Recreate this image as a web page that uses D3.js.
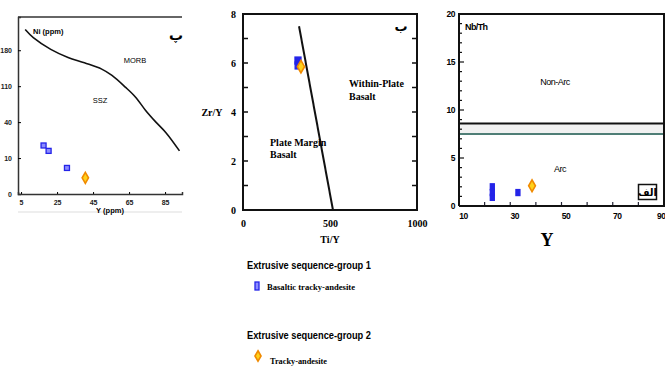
<!DOCTYPE html>
<html>
<head>
<meta charset="utf-8">
<script src="https://cdn.jsdelivr.net/npm/d3@7"></script>
<style>
  body { margin: 0; background: #fff; }
  svg { display: block; }
  .sans { font-family: "Liberation Sans", Arial, sans-serif; }
  .serif { font-family: "Liberation Serif", "Times New Roman", serif; font-weight: bold; }
</style>
</head>
<body>
<div id="chart-area"></div>
<script>
// ---- panel 1 : Ni (ppm) vs Y (ppm)
var niTickVals = [0, 40, 80, 120, 160];
var niTickLabels = ["0", "10", "40", "110", "180"];
var yppmTicks = [5, 25, 45, 65, 85];
var niBoundary = [[7.3,183],[11.8,174],[21.5,161],[31.1,152],[40.2,146],[49.8,139],[55.5,132],
                  [62.9,119],[68.5,108],[74.2,93],[79.9,80],[85.6,68],[93.0,48]];
var niBasaltic = [[17.5,54],[20.3,48],[30.5,29]];
var niTracky = [[40.7,18]];

// ---- panel 2 : Zr/Y vs Ti/Y
var tiyTicks = [0, 500, 1000];
var zryTicks = [0, 2, 4, 6, 8];
var zryMinor = [0, 1, 2, 3, 4, 5, 6, 7, 8];
var tiyBoundary = [[322,7.5],[517,0]];
var tiyBasaltic = [[316,6.1],[317,5.9]];
var tiyTracky = [[333,5.85]];

// ---- panel 3 : Nb/Th vs Y
var yTicks3 = [10, 30, 50, 70, 90];
var yMinor3 = [10, 20, 30, 40, 50, 60, 70, 80, 90];
var nbthTicks = [0, 5, 10, 15, 20];
var nbthMinor = d3.range(0, 21);
var nbthBasaltic = [[23,2.0],[23,1.4],[23,0.9],[33,1.4]];
var nbthTracky = [[38.5,2.1]];
var arcLine = 8.6, arcLine2 = 7.5;

var svg = d3.select("#chart-area").append("svg")
    .attr("width", 665).attr("height", 367);

var blue = "#2424e8", orange = "#f08a00";

function blueSquare(g, x, y, w, h, light) {
    g.append("rect")
        .attr("x", x - w/2).attr("y", y - h/2)
        .attr("width", w).attr("height", h)
        .attr("fill", light ? "#8c8cff" : blue)
        .attr("stroke", blue).attr("stroke-width", 1.3);
}
function orangeDiamond(g, x, y, s) {
    g.append("path")
        .attr("transform", "translate(" + x + "," + y + ")")
        .attr("d", d3.symbol().type(d3.symbolDiamond).size(s)())
        .attr("fill", "#ffd21a").attr("stroke", orange).attr("stroke-width", 1.6);
}

// ================= panel 1
var x1 = d3.scaleLinear().domain([3.3, 94.4]).range([18, 182]);
var y1 = d3.scaleLinear().domain([0, 197]).range([194, 17]);
var p1 = svg.append("g").attr("class", "sans");

p1.append("line").attr("x1", 18).attr("x2", 182).attr("y1", 17).attr("y2", 17)
    .attr("stroke", "#333").attr("stroke-width", 1.5);
p1.append("line").attr("x1", 18).attr("x2", 182).attr("y1", 212).attr("y2", 212)
    .attr("stroke", "#ddd").attr("stroke-width", 1);

p1.append("g").attr("transform", "translate(18,0)")
    .call(d3.axisLeft(y1).tickValues(niTickVals).tickSize(-3).tickPadding(6)
        .tickFormat(function(d, i){ return niTickLabels[i]; }))
    .call(function(g){ g.select(".domain").attr("stroke-width", 1.5).attr("stroke", "#333"); })
    .selectAll("text").attr("font-size", 7).attr("font-weight", "bold").attr("fill", "#222");

p1.append("g").attr("transform", "translate(0,194)")
    .call(d3.axisBottom(x1).tickValues(yppmTicks).tickSize(-2).tickPadding(6))
    .call(function(g){ g.select(".domain").attr("stroke-width", 1.5).attr("stroke", "#333"); })
    .selectAll("text").attr("font-size", 7).attr("font-weight", "bold").attr("fill", "#222");

p1.append("path").datum(niBoundary)
    .attr("d", d3.line().x(function(d){ return x1(d[0]); }).y(function(d){ return y1(d[1]); }).curve(d3.curveCatmullRom))
    .attr("fill", "none").attr("stroke", "#111").attr("stroke-width", 1.6);

p1.append("text").attr("x", 33).attr("y", 34).attr("font-size", 7.5).attr("font-weight", "bold").text("Ni (ppm)");
p1.append("text").attr("x", 135).attr("y", 63).attr("font-size", 7.5).attr("text-anchor", "middle").text("MORB");
p1.append("text").attr("x", 100).attr("y", 103).attr("font-size", 7.5).attr("text-anchor", "middle").text("SSZ");
p1.append("text").attr("x", 110).attr("y", 213).attr("font-size", 7.5).attr("font-weight", "bold").attr("text-anchor", "middle").text("Y (ppm)");
p1.append("text").attr("x", 176).attr("y", 40).attr("font-size", 14).attr("font-weight", "bold")
    .attr("font-family", "DejaVu Sans").attr("text-anchor", "middle").text("پ");

niBasaltic.forEach(function(d){ blueSquare(p1, x1(d[0]), y1(d[1]), 5, 5, true); });
niTracky.forEach(function(d){ orangeDiamond(p1, x1(d[0]), y1(d[1]), 35); });

// ================= panel 2
var x2 = d3.scaleLinear().domain([0, 1000]).range([243, 417]);
var y2 = d3.scaleLinear().domain([0, 8]).range([210, 14]);
var p2 = svg.append("g").attr("class", "serif");

p2.append("g").selectAll("line.l").data(zryMinor).enter().append("line")
    .attr("x1", 243).attr("x2", 248).attr("y1", y2).attr("y2", y2).attr("stroke", "#111").attr("stroke-width", 1.5);
p2.append("g").selectAll("line.r").data(zryMinor).enter().append("line")
    .attr("x1", 412).attr("x2", 417).attr("y1", y2).attr("y2", y2).attr("stroke", "#111").attr("stroke-width", 1.5);

p2.append("g").attr("transform", "translate(243,0)")
    .call(d3.axisLeft(y2).tickValues(zryTicks).tickSize(0).tickPadding(7))
    .call(function(g){ g.select(".domain").remove(); })
    .selectAll("text").attr("font-size", 10).attr("font-family", "Liberation Serif").attr("font-weight", "bold");
p2.append("g").attr("transform", "translate(0,210)")
    .call(d3.axisBottom(x2).tickValues(tiyTicks).tickSize(0).tickPadding(10).tickFormat(d3.format("d")))
    .call(function(g){ g.select(".domain").remove(); })
    .selectAll("text").attr("font-size", 10).attr("font-family", "Liberation Serif").attr("font-weight", "bold");

p2.append("rect").attr("x", x2(0)).attr("y", y2(8)).attr("width", x2(1000) - x2(0)).attr("height", y2(0) - y2(8))
    .attr("fill", "none").attr("stroke", "#111").attr("stroke-width", 2);

p2.append("path").datum(tiyBoundary)
    .attr("d", d3.line().x(function(d){ return x2(d[0]); }).y(function(d){ return y2(d[1]); }))
    .attr("stroke", "#111").attr("stroke-width", 2).attr("fill", "none");

p2.append("text").attr("x", 349).attr("y", 87).attr("font-size", 10).text("Within-Plate");
p2.append("text").attr("x", 349).attr("y", 100).attr("font-size", 10).text("Basalt");
p2.append("text").attr("x", 270).attr("y", 146).attr("font-size", 10).text("Plate Margin");
p2.append("text").attr("x", 270).attr("y", 158).attr("font-size", 10).text("Basalt");
p2.append("text").attr("x", 330).attr("y", 243).attr("font-size", 10).attr("text-anchor", "middle").text("Ti/Y");
p2.append("text").attr("x", 212).attr("y", 116).attr("font-size", 10).attr("text-anchor", "middle").text("Zr/Y");
p2.append("text").attr("x", 401).attr("y", 31).attr("font-size", 13).attr("font-family", "DejaVu Sans")
    .attr("text-anchor", "middle").text("ب");

tiyBasaltic.forEach(function(d){ blueSquare(p2, x2(d[0]), y2(d[1]), 6, 7, false); });
tiyTracky.forEach(function(d){ orangeDiamond(p2, x2(d[0]), y2(d[1]), 45); });

// ================= panel 3
var x3 = d3.scaleLinear().domain([10, 90]).range([459, 664]);
var y3 = d3.scaleLinear().domain([0, 20]).range([206, 14]);
var p3 = svg.append("g").attr("class", "sans");

p3.append("rect").attr("x", 459).attr("y", y3(arcLine) + 1).attr("width", 205).attr("height", y3(arcLine2) - y3(arcLine) - 2)
    .attr("fill", "#f1f1f1");
p3.append("line").attr("x1", 459).attr("x2", 664).attr("y1", y3(arcLine)).attr("y2", y3(arcLine))
    .attr("stroke", "#111").attr("stroke-width", 2);
p3.append("line").attr("x1", 459).attr("x2", 664).attr("y1", y3(arcLine2)).attr("y2", y3(arcLine2))
    .attr("stroke", "#4f7e76").attr("stroke-width", 2);

p3.append("g").selectAll("line").data(nbthMinor).enter().append("line")
    .attr("x1", 459).attr("x2", function(d){ return d % 5 === 0 ? 464 : 462; })
    .attr("y1", y3).attr("y2", y3).attr("stroke", "#111").attr("stroke-width", 1.2);
p3.append("g").selectAll("line").data(yMinor3).enter().append("line")
    .attr("x1", x3).attr("x2", x3).attr("y1", 206).attr("y2", 202).attr("stroke", "#223").attr("stroke-width", 1.2);

p3.append("g").attr("transform", "translate(459,0)")
    .call(d3.axisLeft(y3).tickValues(nbthTicks).tickSize(0).tickPadding(4))
    .call(function(g){ g.select(".domain").remove(); })
    .selectAll("text").attr("font-size", 8.5).attr("font-weight", "bold").attr("letter-spacing", -0.5);
p3.append("g").attr("transform", "translate(4,206)")
    .call(d3.axisBottom(x3).tickValues(yTicks3).tickSize(0).tickPadding(7))
    .call(function(g){ g.select(".domain").remove(); })
    .selectAll("text").attr("font-size", 8.5).attr("font-weight", "bold").attr("letter-spacing", -0.5)
    .attr("text-anchor", function(d){ return d === 90 ? "end" : "middle"; })
    .attr("dx", function(d){ return d === 90 ? -3 : 0; });

p3.append("path").attr("d", "M459,206V14H664V206H459")
    .attr("fill", "none").attr("stroke", "#111").attr("stroke-width", 2);

p3.append("text").attr("x", 465).attr("y", 30).attr("font-size", 9).attr("font-weight", "bold").attr("letter-spacing", -0.6).text("Nb/Th");
p3.append("text").attr("x", 555).attr("y", 85).attr("font-size", 9).attr("text-anchor", "middle").attr("letter-spacing", -0.5).text("Non-Arc");
p3.append("text").attr("x", 560).attr("y", 172).attr("font-size", 9).attr("text-anchor", "middle").attr("letter-spacing", -0.5).text("Arc");
p3.append("text").attr("x", 547).attr("y", 246).attr("font-size", 18).attr("font-family", "Liberation Serif")
    .attr("font-weight", "bold").attr("text-anchor", "middle").text("Y");
p3.append("rect").attr("x", 638.5).attr("y", 184.5).attr("width", 18).attr("height", 15)
    .attr("fill", "#fff").attr("stroke", "#111").attr("stroke-width", 1.5);
p3.append("text").attr("x", 647.5).attr("y", 196).attr("font-size", 10).attr("font-family", "DejaVu Sans")
    .attr("font-weight", "bold").attr("text-anchor", "middle").text("الف");

nbthBasaltic.forEach(function(d){ blueSquare(p3, x3(d[0]), y3(d[1]), 4, 6, false); });
nbthTracky.forEach(function(d){ orangeDiamond(p3, x3(d[0]), y3(d[1]), 40); });

// ================= legend
var lg = svg.append("g");
lg.append("text").attr("class", "sans").attr("x", 247).attr("y", 269).attr("font-size", 10.5).attr("font-weight", "bold")
    .attr("textLength", 124).attr("lengthAdjust", "spacingAndGlyphs").text("Extrusive sequence-group 1");
blueSquare(lg, 257, 286, 4, 8, true);
lg.append("text").attr("class", "serif").attr("x", 267).attr("y", 290).attr("font-size", 9)
    .attr("textLength", 88).attr("lengthAdjust", "spacingAndGlyphs").text("Basaltic tracky-andesite");
lg.append("text").attr("class", "sans").attr("x", 247).attr("y", 339).attr("font-size", 10.5).attr("font-weight", "bold")
    .attr("textLength", 124).attr("lengthAdjust", "spacingAndGlyphs").text("Extrusive sequence-group 2");
orangeDiamond(lg, 258, 356, 32);
lg.append("text").attr("class", "serif").attr("x", 270).attr("y", 364).attr("font-size", 9)
    .attr("textLength", 57).attr("lengthAdjust", "spacingAndGlyphs").text("Tracky-andesite");
</script>
</body>
</html>
